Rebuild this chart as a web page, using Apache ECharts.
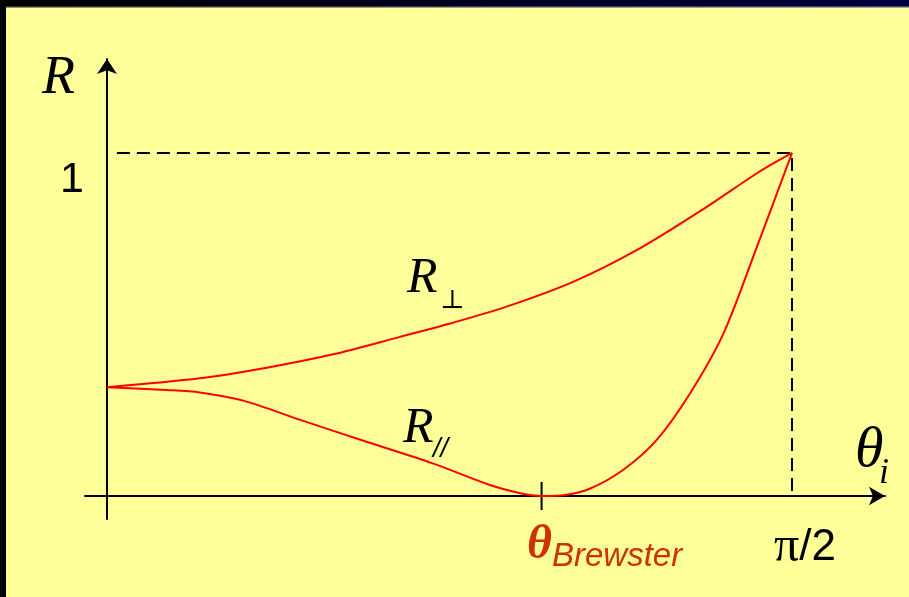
<!DOCTYPE html>
<html>
<head>
<meta charset="utf-8">
<script src="https://cdn.jsdelivr.net/npm/echarts@6/dist/echarts.min.js"></script>
<style>
  html, body { margin: 0; padding: 0; background: #FFFF99; }
  #chart { width: 909px; height: 597px; }
</style>
</head>
<body>
<div id="chart"></div>
<script>
// Incidence angle θ in degrees (π/2 = 90°), reflectance R
const brewsterAngle = 57.1;
const rightAngle = 90;

const thetaPerp = [0, 12.2, 21.0, 29.7, 38.5, 45.1, 52.5, 61.3, 70.0, 78.8, 85.4, 90];
const rPerp     = [0.317, 0.343, 0.374, 0.413, 0.464, 0.503, 0.552, 0.625, 0.722, 0.843, 0.941, 1.0];

const thetaPar = [0, 7.8, 12.2, 17.9, 25.4, 34.1, 42.8, 50.3, 54.3, 57.1, 60.2, 63.5, 67.8, 72.2, 76.6, 81.0, 85.4, 90];
const rPar     = [0.317, 0.309, 0.302, 0.278, 0.222, 0.158, 0.095, 0.032, 0.008, 0, 0.003, 0.022, 0.076, 0.163, 0.299, 0.474, 0.727, 1.0];

const xTickValues = [brewsterAngle, rightAngle];
const xTickLabels = ['{th|θ}{br|Brewster}', '{pi|π}{sl|/2}'];
const yTickValues = [1];
const yTickLabels = ['{one|1}'];

const pairs = (xs, ys) => xs.map((x, i) => [x, ys[i]]);

const chart = echarts.init(document.getElementById('chart'), null, { renderer: 'canvas' });

const serif = '"Liberation Serif", "Times New Roman", serif';
const sans = '"Liberation Sans", Arial, sans-serif';

chart.setOption({
  animation: false,
  backgroundColor: '#FFFF99',
  grid: { left: 85, right: 24, top: 59, bottom: 78 },
  xAxis: {
    type: 'value',
    min: -2.89,
    max: 102.22,
    splitLine: { show: false },
    axisTick: { show: false },
    axisLine: {
      show: true, onZero: true,
      symbol: ['none', 'arrow'], symbolSize: [14, 16],
      lineStyle: { color: '#000', width: 2 }
    },
    axisLabel: {
      customValues: xTickValues,
      margin: 14,
      formatter: v => xTickLabels[xTickValues.indexOf(v)] || '',
      rich: {
        th: { fontFamily: serif, fontStyle: 'italic', fontWeight: 'bold', fontSize: 48, color: '#CC3300', padding: [0, 0, 22, 126], lineHeight: 48 },
        br: { fontFamily: sans, fontStyle: 'italic', fontSize: 33, color: '#CC3300', lineHeight: 33 },
        pi: { fontFamily: serif, fontSize: 50, color: '#000', padding: [0, 0, 16, 26], lineHeight: 46 },
        sl: { fontFamily: sans, fontSize: 44, color: '#000', padding: [0, 0, 16, 0], lineHeight: 46 }
      }
    }
  },
  yAxis: {
    type: 'value',
    min: -0.067,
    max: 1.274,
    splitLine: { show: false },
    axisTick: { show: false },
    axisLine: {
      show: true, onZero: true,
      symbol: ['none', 'arrow'], symbolSize: [15, 15],
      lineStyle: { color: '#000', width: 2 }
    },
    axisLabel: {
      customValues: yTickValues,
      margin: 1,
      formatter: v => yTickLabels[yTickValues.indexOf(v)] || '',
      rich: {
        one: { fontFamily: sans, fontSize: 43, color: '#000', padding: [54, 0, 0, 0] }
      }
    }
  },
  series: [
    {
      name: 'guides',
      type: 'line',
      data: [[1.3, 1], [rightAngle, 1], [rightAngle, 0]],
      symbol: 'none',
      lineStyle: { color: '#000', width: 2, type: [13, 7] },
      silent: true
    },
    {
      name: 'brewsterTick',
      type: 'line',
      data: [[brewsterAngle, 0.041], [brewsterAngle, -0.041]],
      symbol: 'none',
      lineStyle: { color: '#000', width: 2 },
      silent: true
    },
    {
      name: 'R_perp',
      type: 'line',
      data: pairs(thetaPerp, rPerp),
      smooth: 0.3,
      symbol: 'none',
      lineStyle: { color: '#FF0000', width: 2 },
      z: 3
    },
    {
      name: 'R_par',
      type: 'line',
      data: pairs(thetaPar, rPar),
      smooth: 0.3,
      symbol: 'none',
      lineStyle: { color: '#FF0000', width: 2 },
      z: 3
    }
  ],
  graphic: [
    // slide frame: dark band on top, dark strip on the left
    {
      type: 'rect', left: 0, top: 0, shape: { width: 909, height: 6 },
      style: { fill: new echarts.graphic.LinearGradient(0, 0, 1, 0, [
        { offset: 0, color: '#000000' }, { offset: 1, color: '#000040' }]) },
      z: 10
    },
    {
      type: 'rect', left: 0, top: 6, shape: { width: 909, height: 1.5 },
      style: { fill: new echarts.graphic.LinearGradient(0, 0, 1, 0, [
        { offset: 0, color: '#303030' }, { offset: 1, color: '#48487a' }]) },
      z: 10
    },
    {
      type: 'rect', left: 0, top: 0, shape: { width: 6, height: 597 },
      style: { fill: '#030308' },
      z: 10
    },
    // axis names
    {
      type: 'text', left: 42, top: 52,
      style: { text: 'R', font: 'italic 54px ' + serif, fill: '#000' }
    },
    {
      type: 'text', left: 855, top: 422,
      style: { text: 'θ', font: 'italic 58px ' + serif, fill: '#000' }
    },
    {
      type: 'text', left: 879, top: 456,
      style: { text: 'i', font: 'italic 36px ' + serif, fill: '#000' }
    },
    // curve names
    {
      type: 'text', left: 407, top: 254,
      style: { text: 'R', font: 'italic 50px ' + serif, fill: '#000' }
    },
    {
      type: 'text', left: 440, top: 288,
      style: { text: '⊥', font: '26px "DejaVu Serif", serif', fill: '#000' }
    },
    {
      type: 'text', left: 403, top: 404,
      style: { text: 'R', font: 'italic 50px ' + serif, fill: '#000' }
    },
    {
      type: 'text', left: 433, top: 436,
      style: { text: '//', font: 'italic 27px ' + sans, fill: '#000' }
    }
  ]
});
</script>
</body>
</html>
